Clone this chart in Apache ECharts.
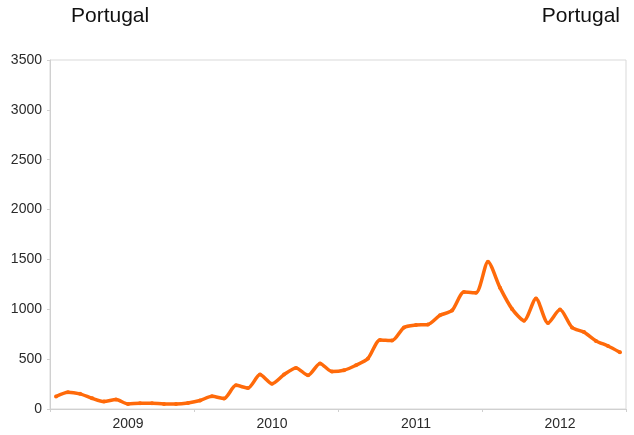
<!DOCTYPE html>
<html>
<head>
<meta charset="utf-8">
<script src="https://cdn.jsdelivr.net/npm/echarts@6/dist/echarts.min.js"></script>
<style>
html,body{margin:0;padding:0;background:#fff;}
#chart{width:634px;height:435px;}
</style>
</head>
<body>
<div id="chart"></div>
<script>
// Monthly categories Jan 2009 .. Dec 2012
var years = ['2009', '2010', '2011', '2012'];
var months = ['01','02','03','04','05','06','07','08','09','10','11','12'];
var categories = [];
years.forEach(function (y) { months.forEach(function (m) { categories.push(y + '-' + m); }); });

var values = [125, 169, 152, 108, 74, 95, 51, 57, 57, 51, 51, 61,
              85, 128, 105, 237, 210, 345, 254, 345, 412, 338, 456, 375,
              389, 439, 507, 693, 686, 818, 842, 848, 940, 987, 1173, 1166,
              1477, 1217, 1004, 886, 1109, 862, 997, 818, 771, 683, 632, 568];

var yTicks = [0, 500, 1000, 1500, 2000, 2500, 3000, 3500];
var titleText = 'Portugal';

var chart = echarts.init(document.getElementById('chart'));
chart.setOption({
  backgroundColor: '#ffffff',
  animation: false,
  title: [
    { text: titleText, left: 66, top: 1, textStyle: { fontFamily: 'Liberation Sans', fontSize: 21, fontWeight: 'normal', color: '#111' } },
    { text: titleText, right: 9, top: 1, textStyle: { fontFamily: 'Liberation Sans', fontSize: 21, fontWeight: 'normal', color: '#111' } }
  ],
  grid: { left: 50, right: 8, top: 60, bottom: 26, show: true, borderColor: '#d9d9d9', borderWidth: 1 },
  xAxis: {
    type: 'category',
    data: categories,
    boundaryGap: true,
    axisLine: { lineStyle: { color: '#d0d0d0' } },
    axisTick: { show: true, length: 3, lineStyle: { color: '#d0d0d0' }, interval: function (i) { return i % 12 === 0; } },
    axisLabel: {
      interval: function (i) { return i % 12 === 6; },
      formatter: function (v) { return v.slice(0, 4); },
      margin: 8,
      fontFamily: 'Liberation Sans', fontSize: 14, color: '#2a2a2a'
    },
    splitLine: { show: false }
  },
  yAxis: {
    type: 'value',
    min: yTicks[0], max: yTicks[yTicks.length - 1], interval: 500,
    axisLine: { show: true, lineStyle: { color: '#d0d0d0' } },
    axisTick: { show: true, length: 3, lineStyle: { color: '#d0d0d0' } },
    axisLabel: { margin: 8, fontFamily: 'Liberation Sans', fontSize: 14, color: '#2a2a2a', formatter: function (v) { return String(v); } },
    splitLine: { show: false }
  },
  series: [{
    type: 'line',
    data: values,
    smooth: 0.25,
    symbol: 'circle',
    symbolSize: 4,
    showSymbol: true,
    lineStyle: { color: '#ff6a0a', width: 3.5 },
    itemStyle: { color: '#ff6a0a' }
  }]
});
</script>
</body>
</html>
